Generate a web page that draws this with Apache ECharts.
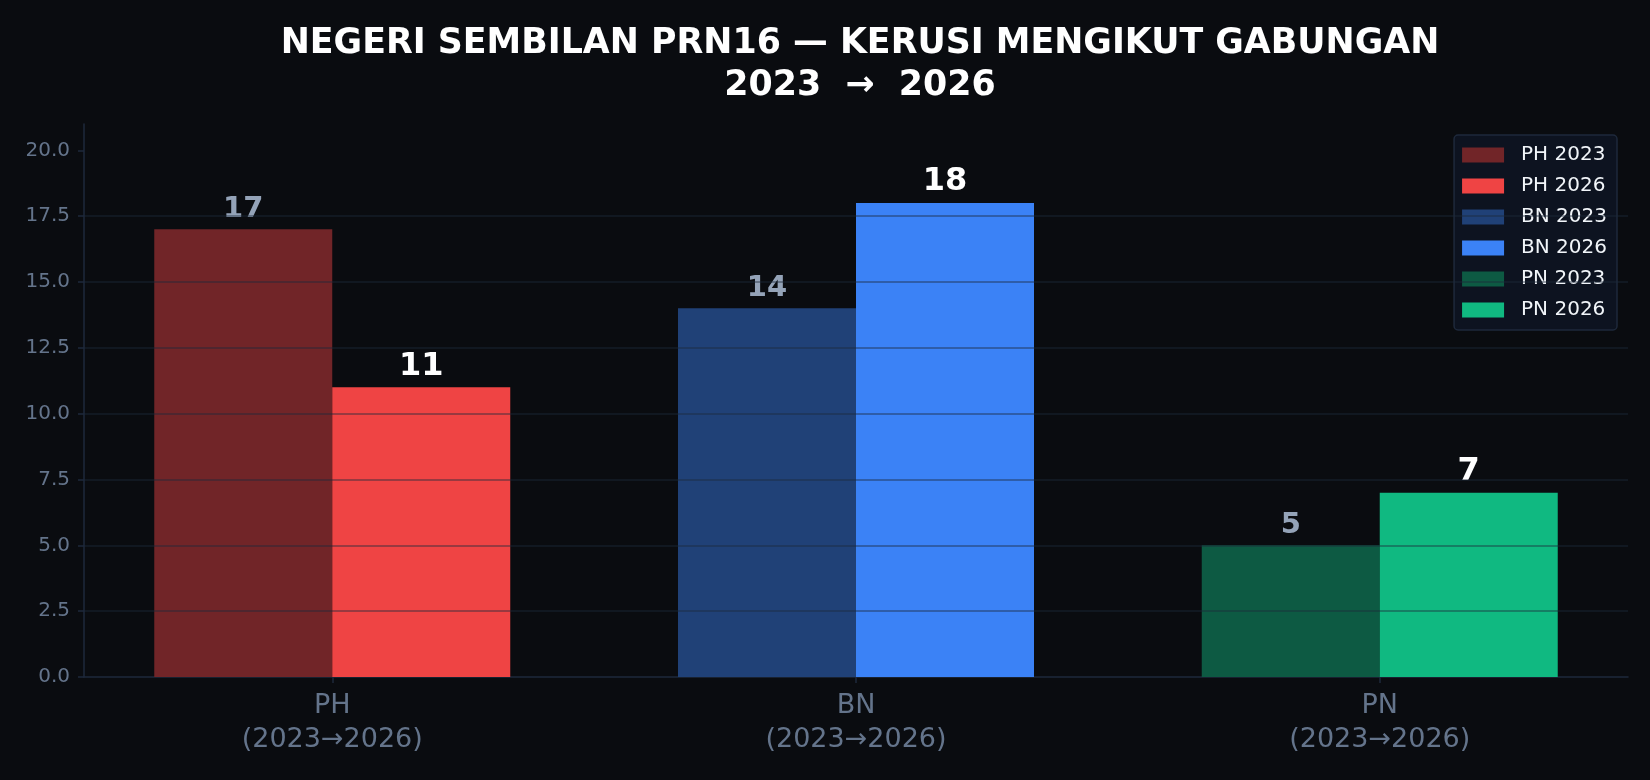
<!DOCTYPE html>
<html>
<head>
<meta charset="utf-8">
<script src="https://cdn.jsdelivr.net/npm/echarts@6/dist/echarts.min.js"></script>
<style>
html,body{margin:0;padding:0;background:#0a0c10;}
#c{width:1650px;height:780px;}
</style>
</head>
<body>
<div id="c"></div>
<script>
const categories = ['PH', 'BN', 'PN'];
const categoryLabels = ['PH\n(2023→2026)', 'BN\n(2023→2026)', 'PN\n(2023→2026)'];
const seats2023 = [17, 14, 5];
const seats2026 = [11, 18, 7];
const colors2023 = ['#712528', '#204177', '#0d5a43'];
const colors2026 = ['#ef4444', '#3b82f6', '#10b981'];
const yTicks = [0, 2.5, 5, 7.5, 10, 12.5, 15, 17.5, 20];
const titleText = 'NEGERI SEMBILAN PRN16 — KERUSI MENGIKUT GABUNGAN\n2023  →  2026';

const FONT = 'DejaVu Sans';
const chart = echarts.init(document.getElementById('c'), null, {renderer: 'canvas'});

const series = [];
const legendNames = [];
categories.forEach((cat, i) => {
  [['2023', seats2023, colors2023, 'y2023', '#94a3b8', 29], ['2026', seats2026, colors2026, 'y2026', '#ffffff', 32]].forEach(([yr, vals, cols, stack, lc, fs]) => {
    const name = cat + ' ' + yr;
    legendNames.push(name);
    series.push({
      name: name,
      type: 'bar',
      stack: stack,
      barWidth: 178,
      barGap: '0%',
      color: cols[i],
      itemStyle: {color: cols[i]},
      data: categories.map((c, j) => [j, j === i ? vals[i] : null]),
      label: {
        show: true,
        position: 'top',
        distance: 5,
        color: lc,
        fontFamily: FONT,
        fontWeight: 'bold',
        fontSize: fs,
        formatter: p => (p.value[1] == null ? '' : String(p.value[1]))
      }
    });
  });
});

const option = {
  backgroundColor: '#0a0c10',
  animation: false,
  title: {
    text: titleText,
    left: 855,
    top: 18,
    textAlign: 'center',
    textStyle: {color: '#ffffff', fontFamily: FONT, fontWeight: 'bold', fontSize: 34.8, lineHeight: 42}
  },
  legend: {
    data: legendNames,
    orient: 'vertical',
    right: 33,
    top: 135,
    itemWidth: 42,
    itemHeight: 15,
    itemGap: 11,
    icon: 'rect',
    padding: [10, 10, 10, 8],
    backgroundColor: '#0d1320',
    borderColor: '#1e293b',
    borderWidth: 1.5,
    borderRadius: 4,
    textStyle: {color: '#f1f5f9', fontFamily: FONT, fontSize: 20, lineHeight: 20, padding: [0, 0, 0, 12]}
  },
  grid: {left: 84, right: 22, top: 124, bottom: 103, containLabel: false},
  xAxis: {
    type: 'value',
    min: -0.474,
    max: 2.474,
    splitLine: {show: false},
    axisLine: {show: true, onZero: false, lineStyle: {color: '#1e293b', width: 1.5}},
    axisTick: {show: true, customValues: [0, 1, 2], length: 6, lineStyle: {color: '#1e293b', width: 1.5}},
    axisLabel: {
      customValues: [0, 1, 2],
      formatter: v => categoryLabels[Math.round(v)] || '',
      color: '#64748b',
      fontFamily: FONT,
      fontSize: 27,
      lineHeight: 34,
      margin: 12
    }
  },
  yAxis: {
    type: 'value',
    min: 0,
    max: 21,
    interval: 2.5,
    z: 5,
    axisLine: {show: true, onZero: false, lineStyle: {color: '#1e293b', width: 1.5}},
    axisTick: {show: true, customValues: yTicks, length: 6, lineStyle: {color: '#1e293b', width: 1.5}},
    axisLabel: {
      customValues: yTicks,
      formatter: v => Number(v).toFixed(1),
      color: '#64748b',
      fontFamily: FONT,
      fontSize: 20,
      margin: 14,
      padding: [4, 0, 0, 0]
    },
    splitLine: {show: true, showMaxLine: false, showMinLine: false, lineStyle: {color: 'rgba(30,41,59,0.55)', width: 1.5}}
  },
  series: series
};
chart.setOption(option);
</script>
</body>
</html>
